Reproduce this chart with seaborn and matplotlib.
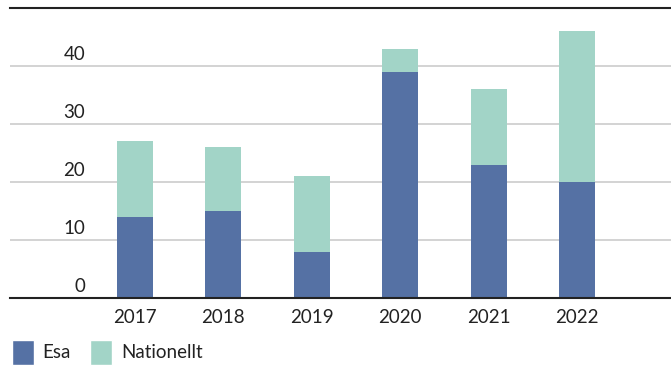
import matplotlib
matplotlib.use("Agg")
import matplotlib.pyplot as plt
import matplotlib.transforms as mtransforms
from matplotlib.patches import Patch
import seaborn as sns
import pandas as pd

years = ["2017", "2018", "2019", "2020", "2021", "2022"]
esa = [14, 15, 8, 39, 23, 20]
nationellt = [13, 11, 13, 4, 13, 26]
yticks = [0, 10, 20, 30, 40]

c_esa = "#5571a4"
c_nat = "#a2d4c7"

sns.set_theme(style="white")
plt.rcParams["font.family"] = ["Lato", "DejaVu Sans"]

df = pd.DataFrame({"year": years, "Esa": esa, "Nationellt": nationellt})
df["total"] = df["Esa"] + df["Nationellt"]

fig = plt.figure(figsize=(6.71, 3.67), dpi=100)
ax = fig.add_axes([10 / 671, 1 - 298 / 367, 1 - 10 / 671, (298 - 8) / 367])

sns.barplot(data=df, x="year", y="total", color=c_nat, width=0.41, ax=ax,
            saturation=1, order=years, linewidth=0, edgecolor="none")
sns.barplot(data=df, x="year", y="Esa", color=c_esa, width=0.41, ax=ax,
            saturation=1, order=years, linewidth=0, edgecolor="none")

ax.set_xlim(-1.41, 6.06)
ax.set_ylim(0, 50)
ax.set_yticks(yticks)
ax.yaxis.grid(True, color="#cccccc", linewidth=1.2)
ax.set_axisbelow(True)
ax.tick_params(axis="y", left=False, labelleft=False)
ax.tick_params(axis="x", bottom=False, labelsize=13.5, pad=2, colors="#222222")
ax.set_xlabel("")
ax.set_ylabel("")

for s in ["left", "right"]:
    ax.spines[s].set_visible(False)
for s in ["top", "bottom"]:
    ax.spines[s].set_color("#222222")
    ax.spines[s].set_linewidth(1.5)

trans = mtransforms.blended_transform_factory(ax.transData, ax.transData)
for t in yticks:
    ax.text(-0.56, t + 0.55, str(t), ha="right", va="bottom", fontsize=13.5,
            color="#222222", transform=trans)

handles = [Patch(facecolor=c_esa, label="Esa"), Patch(facecolor=c_nat, label="Nationellt")]
fig.legend(handles=handles, loc="lower left", bbox_to_anchor=(-0.002, -0.03),
           ncol=2, frameon=False, fontsize=13.5, handlelength=1.2, handleheight=1.7,
           handletextpad=0.45, columnspacing=1.0, borderaxespad=0.3, labelcolor="#222222")

fig.savefig("out.png", dpi=100)
